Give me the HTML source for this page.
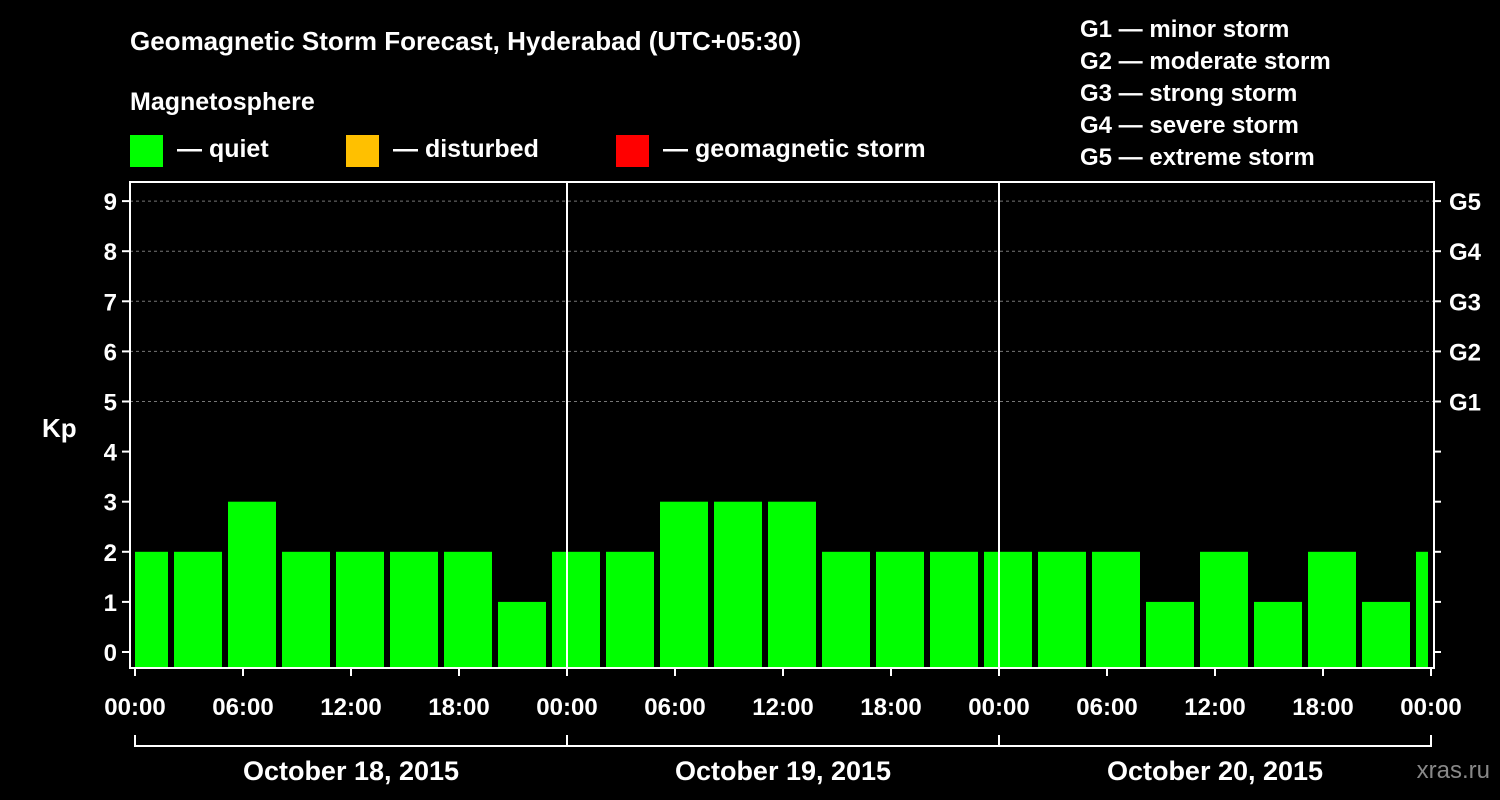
<!DOCTYPE html>
<html><head><meta charset="utf-8"><style>
body{margin:0;background:#000;}
svg{display:block;font-family:"Liberation Sans",Arial,sans-serif;font-weight:bold;}
</style></head><body>
<svg id="c" width="1500" height="800" viewBox="0 0 1500 800">
<rect width="1500" height="800" fill="#000"/>
<text x="130" y="50" fill="#fff" font-size="26">Geomagnetic Storm Forecast, Hyderabad (UTC+05:30)</text>
<text x="130" y="110" fill="#fff" font-size="25">Magnetosphere</text>
<g><rect x="130" y="135" width="33" height="32" fill="#00ff00"/><text x="177" y="157" fill="#fff" font-size="25">— quiet</text></g>
<g><rect x="346" y="135" width="33" height="32" fill="#ffc000"/><text x="393" y="157" fill="#fff" font-size="25">— disturbed</text></g>
<g><rect x="616" y="135" width="33" height="32" fill="#ff0000"/><text x="663" y="157" fill="#fff" font-size="25">— geomagnetic storm</text></g>
<g fill="#fff" font-size="24">
<text x="1080" y="37">G1 — minor storm</text><text x="1080" y="69">G2 — moderate storm</text><text x="1080" y="101">G3 — strong storm</text><text x="1080" y="133">G4 — severe storm</text><text x="1080" y="165">G5 — extreme storm</text></g>
<text x="42" y="437" fill="#fff" font-size="26">Kp</text>
<text x="1490" y="778" fill="#888" font-size="24" font-weight="normal" text-anchor="end">xras.ru</text>
<g id="grid"></g><g id="bars"></g><g id="axes"></g>
</svg>
<script>
const kpValues=[2,2,3,2,2,2,2,1,2,2,3,3,3,2,2,2,2,2,2,1,2,1,2,1,2];
const yTicks=[0,1,2,3,4,5,6,7,8,9];
const gLabels=["G1","G2","G3","G4","G5"];
const timeLabels=["00:00","06:00","12:00","18:00","00:00","06:00","12:00","18:00","00:00","06:00","12:00","18:00","00:00"];
const dayLabels=["October 18, 2015","October 19, 2015","October 20, 2015"];
const firstBarHour=-1;
const NS="http://www.w3.org/2000/svg";
const X0=135,PX_H=18,L=130,R=1434,T=182,B=668;
const x=h=>X0+h*PX_H;
const y=v=>652-v*50.1;
function mk(p,tag,a,txt){const e=document.createElementNS(NS,tag);for(const k in a)e.setAttribute(k,a[k]);if(txt!=null)e.textContent=txt;document.getElementById(p).appendChild(e);return e;}
yTicks.forEach(v=>{if(v>=5){const g=mk('grid','line',{x1:L,x2:R,y1:y(v),y2:y(v),stroke:'#777','stroke-dasharray':'3,3'});

}});
kpValues.forEach((v,i)=>{const h0=firstBarHour+i*3;let x1=x(h0)+3,x2=x(h0+3)-3;x1=Math.max(x1,X0);x2=Math.min(x2,1428);if(x2<=x1)return;
const r=mk('bars','rect',{x:x1,y:y(v),width:x2-x1,height:B-y(v),fill:'#00ff00'});

});
const ax={stroke:'#fff','stroke-width':2};
mk('axes','rect',{x:L,y:T,width:R-L,height:B-T,fill:'none',stroke:'#fff','stroke-width':2});
[24,48].forEach(h=>mk('axes','line',Object.assign({x1:x(h),x2:x(h),y1:T,y2:B},ax)));
yTicks.forEach(v=>{mk('axes','line',Object.assign({x1:L-8,x2:L,y1:y(v),y2:y(v)},ax));mk('axes','line',Object.assign({x1:R,x2:R+7,y1:y(v),y2:y(v)},ax));
const t=mk('axes','text',{x:117,y:y(v)+9,fill:'#fff','font-size':24,'text-anchor':'end'},v);

});
gLabels.forEach((g,i)=>{const t=mk('axes','text',{x:1449,y:y(5+i)+9,fill:'#fff','font-size':24},g);

});
timeLabels.forEach((s,i)=>{const h=i*6;mk('axes','line',Object.assign({x1:x(h),x2:x(h),y1:B,y2:B+8},ax));
const t=mk('axes','text',{x:x(h),y:715,fill:'#fff','font-size':24,'text-anchor':'middle'},s);

});
mk('axes','line',Object.assign({x1:x(0),x2:x(72),y1:746,y2:746},ax));
[0,24,48,72].forEach(h=>mk('axes','line',Object.assign({x1:x(h),x2:x(h),y1:735,y2:747},ax)));
dayLabels.forEach((d,i)=>{const t=mk('axes','text',{x:x(i*24+12),y:780,fill:'#fff','font-size':27,'text-anchor':'middle'},d);

});
</script>
</body></html>
